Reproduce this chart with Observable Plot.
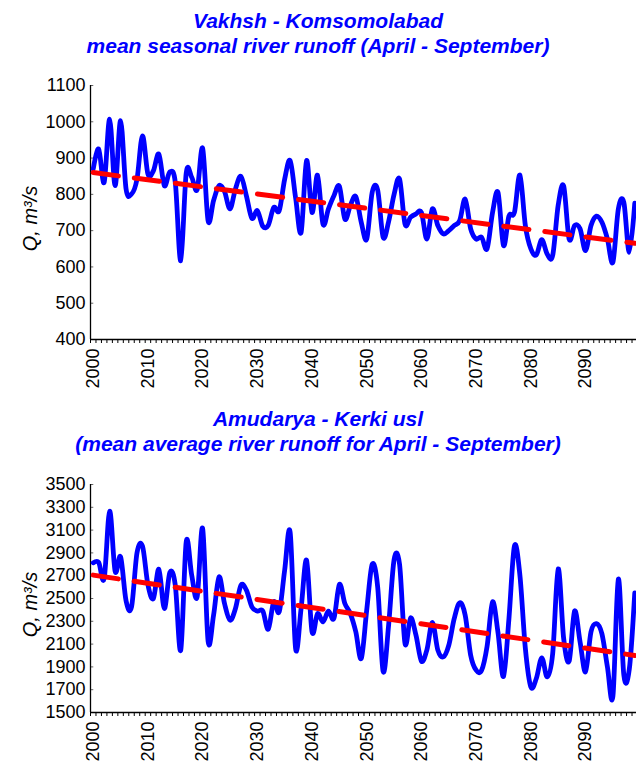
<!DOCTYPE html>
<html><head><meta charset="utf-8">
<script src="https://cdn.jsdelivr.net/npm/d3@7"></script>
<script src="https://cdn.jsdelivr.net/npm/@observablehq/plot@0.6"></script>
<style>
body{margin:0;background:#fff;}
#wrap{position:relative;width:636px;height:765px;overflow:hidden;font-family:"Liberation Sans",Arial,sans-serif;}
.title{position:absolute;left:0;width:636px;text-align:center;color:#0000ff;font-weight:bold;font-style:italic;font-size:21px;line-height:25px;}
.chart{position:absolute;left:0;}
</style></head><body>
<div id="wrap">
<div class="title" style="top:8px">Vakhsh - Komsomolabad<br>mean seasonal river runoff (April - September)</div>
<div class="chart" id="c1" style="top:60px"></div>
<div class="title" style="top:406px">Amudarya - Kerki usl<br>(mean average river runoff for April - September)</div>
<div class="chart" id="c2" style="top:460px"></div>
</div>
<script>
// categories: years 2000..2099
const years = d3.range(2000, 2100);
const labelYears = [2000, 2010, 2020, 2030, 2040, 2050, 2060, 2070, 2080, 2090];

// Vakhsh - Komsomolabad, m3/s
const vakhsh = [
  870, 925, 833, 1007, 824, 1003, 815, 801, 842, 961,
  856, 865, 911, 824, 862, 833, 617, 859, 847, 813,
  927, 727, 783, 824, 808, 760, 815, 850, 796, 734,
  755, 712, 715, 764, 755, 842, 893, 790, 695, 893,
  750, 853, 718, 760, 796, 822, 732, 769, 794, 723,
  677, 806, 812, 682, 725, 800, 842, 718, 737, 746,
  750, 677, 760, 714, 691, 700, 714, 728, 787, 705,
  677, 682, 650, 750, 805, 659, 740, 750, 853, 714,
  650, 633, 675, 635, 632, 770, 823, 677, 714, 705,
  645, 714, 740, 723, 677, 613, 760, 778, 640, 776
];
// Amudarya - Kerki usl, m3/s
const kerki = [
  2813, 2816, 2675, 3266, 2740, 2865, 2480, 2425, 2900, 2960,
  2620, 2500, 2757, 2412, 2728, 2617, 2047, 2997, 2705, 2515,
  3114, 2126, 2354, 2690, 2456, 2310, 2412, 2617, 2573, 2427,
  2390, 2390, 2230, 2471, 2383, 2750, 3080, 2061, 2412, 2836,
  2208, 2368, 2295, 2389, 2325, 2623, 2456, 2368, 2208, 1974,
  2400, 2800, 2600, 1860, 2266, 2840, 2800, 2105, 2330, 2178,
  1950, 2050, 2290, 2047, 1988, 2090, 2325, 2462, 2354, 2003,
  1871, 1870, 2080, 2470, 2200, 1815, 2325, 2960, 2705, 2061,
  1725, 1798, 1980, 1813, 2020, 2760, 2150, 1950, 2390, 2120,
  1857, 2208, 2280, 2190, 1900, 1640, 2670, 1830, 1880, 2550
];
// linear trends (start/end)
const trendYears = [2000, 2099];
const vakhshTrend = [860, 665];
const kerkiTrend = [2705, 2000];

const vakhshTicks = [400, 500, 600, 700, 800, 900, 1000, 1100];
const kerkiTicks = [1500, 1700, 1900, 2100, 2300, 2500, 2700, 2900, 3100, 3300, 3500];

const xStart = 1999.5, xEnd = 2099.5;
const boundaries = d3.range(xStart, xEnd + 0.5, 1);

function chart({values, trend, yTicks, plotH, marginTop, marginBottom}) {
  const data = years.map((year, i) => ({year, q: values[i]}));
  const tdata = trendYears.map((year, i) => ({year, q: trend[i]}));
  const yDomain = [yTicks[0], yTicks[yTicks.length - 1]];
  return Plot.plot({
    width: 636,
    height: marginTop + plotH + marginBottom,
    marginLeft: 90, marginRight: -1, marginTop, marginBottom,
    style: {fontFamily: "'Liberation Sans', Arial, sans-serif", fontSize: "18px", color: "#000", background: "#fff", overflow: "visible"},
    x: {domain: [xStart, xEnd], label: null},
    y: {domain: yDomain, label: null},
    marks: [
      Plot.axisY({ticks: yTicks, tickSize: 0, tickPadding: 5, fontSize: 18, tickFormat: d => String(d)}),
      Plot.ruleY(yTicks, {x1: xStart, x2: xStart + 0.6, stroke: "#666"}),
      Plot.axisX({ticks: boundaries, tickSize: 4, tickFormat: () => "", stroke: "#000"}),
      Plot.axisX({ticks: labelYears, tickSize: 0, tickRotate: -90, tickPadding: 9, fontSize: 18, tickFormat: d => String(d)}),
      Plot.ruleX([xStart], {stroke: "#000", strokeWidth: 1.3}),
      Plot.ruleY([yDomain[0]], {stroke: "#000", strokeWidth: 1.3}),
      Plot.line(data, {x: "year", y: "q", stroke: "#0000ff", strokeWidth: 4.8, curve: "cardinal"}),
      Plot.line(tdata, {x: "year", y: "q", stroke: "#ff0000", strokeWidth: 5, strokeDasharray: "25.4,16", strokeLinecap: "round"}),
      Plot.text(["Q, m³/s"], {frameAnchor: "left", textAnchor: "middle", rotate: -90, dx: -60, dy: 6, fontSize: 20, fontStyle: "italic", fill: "#000"})
    ]
  });
}

document.getElementById("c1").append(chart({values: vakhsh, trend: vakhshTrend, yTicks: vakhshTicks, plotH: 254, marginTop: 25, marginBottom: 55}));
document.getElementById("c2").append(chart({values: kerki, trend: kerkiTrend, yTicks: kerkiTicks, plotH: 228, marginTop: 24, marginBottom: 53}));
</script>
</body></html>
